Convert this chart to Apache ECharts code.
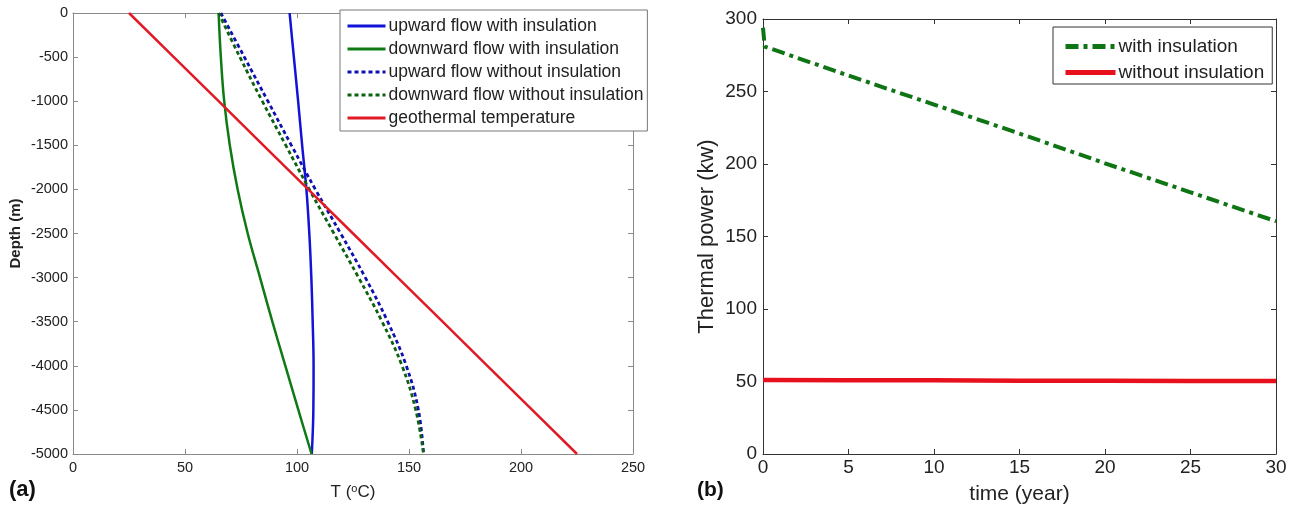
<!DOCTYPE html>
<html>
<head>
<meta charset="utf-8">
<script src="https://cdn.jsdelivr.net/npm/echarts@6/dist/echarts.min.js"></script>
<style>
  html, body { margin: 0; padding: 0; background: #fff; }
  #chart { width: 1301px; height: 511px; }
</style>
</head>
<body>
<div id="chart"></div>
<script>
// Panel (a): temperature profiles along the well (depth in m, T in °C)
const depthLevels   = [0, -500, -1000, -1500, -2000, -2500, -3000, -3500, -4000, -4500, -5000];
const upInsulated   = [96.7, 98.6, 100.5, 102.3, 104.2, 105.5, 106.4, 107.0, 107.4, 107.3, 106.6];
const downInsulated = [65, 66, 67.5, 70, 73.5, 78, 83.5, 89, 94.8, 100.6, 106.5];
const upBare        = [66, 76.5, 87, 97.5, 108.2, 119.5, 130.5, 140.5, 148.8, 154.2, 156.5];
const downBare      = [65, 74.5, 84.5, 95, 105.5, 116.5, 127.5, 138, 146.9, 153, 156.5];
const geothermal    = [25, 45, 65, 85, 105, 125, 145, 165, 185, 205, 225];

// Panel (b): thermal power over the operating life (kw vs year)
const years          = [0, 0.1, 5, 10, 15, 20, 25, 30];
const powerInsulated = [294, 281, 261, 241, 221, 200.5, 180.5, 160.5];
const powerBare      = [51, 51, 50.9, 50.8, 50.6, 50.5, 50.4, 50.4];

const FONT = '"Liberation Sans", Arial, Helvetica, sans-serif';

function profile(temps) {
  return temps.map((t, i) => [t, depthLevels[i]]);
}
function timeline(vals) {
  return vals.map((v, i) => [years[i], v]);
}
const plain = (v) => String(v);

function boxAxis(opts) {
  const color = opts.color;
  return Object.assign({
    type: 'value',
    splitLine: { show: false },
    axisLine: { show: true, onZero: false, lineStyle: { color: color, width: 1 } },
    axisTick: { show: true, inside: true, length: 5, lineStyle: { color: color } },
    axisLabel: { show: false }
  }, opts.extra);
}

const chart = echarts.init(document.getElementById('chart'), null, { renderer: 'canvas' });

const leftAxisColor = '#8a8a8a';
const rightAxisColor = '#333';

const option = {
  backgroundColor: '#fff',
  animation: false,
  textStyle: { fontFamily: FONT },
  grid: [
    { left: 73, top: 13, width: 560, height: 441 },
    { left: 763, top: 19, width: 513, height: 435 }
  ],
  xAxis: [
    boxAxis({ color: leftAxisColor, extra: {
      gridIndex: 0, position: 'bottom', min: 0, max: 250, interval: 50,
      axisLabel: { show: true, fontSize: 14.5, color: '#222', margin: 6, fontFamily: FONT, formatter: plain },
      name: 'T ({sup|o}C)', nameLocation: 'middle', nameGap: 29,
      nameTextStyle: { fontSize: 17, color: '#222', fontFamily: FONT,
        rich: { sup: { fontSize: 11, verticalAlign: 'top', padding: [0, 0, 8, 0], color: '#222' } } }
    }}),
    boxAxis({ color: leftAxisColor, extra: {
      gridIndex: 0, position: 'top', min: 0, max: 250, interval: 50
    }}),
    boxAxis({ color: rightAxisColor, extra: {
      gridIndex: 1, position: 'bottom', min: 0, max: 30, interval: 5,
      axisLabel: { show: true, fontSize: 19, color: '#222', margin: 4, fontFamily: FONT, formatter: plain },
      name: 'time (year)', nameLocation: 'middle', nameGap: 30,
      nameTextStyle: { fontSize: 21, color: '#222', fontFamily: FONT }
    }}),
    boxAxis({ color: rightAxisColor, extra: {
      gridIndex: 1, position: 'top', min: 0, max: 30, interval: 5
    }})
  ],
  yAxis: [
    boxAxis({ color: leftAxisColor, extra: {
      gridIndex: 0, position: 'left', min: -5000, max: 0, interval: 500,
      axisLabel: { show: true, fontSize: 14.5, color: '#222', margin: 5, fontFamily: FONT, formatter: plain },
      name: 'Depth (m)', nameLocation: 'middle', nameGap: 50, nameRotate: 90,
      nameTextStyle: { fontSize: 15, fontWeight: 'bold', color: '#222', fontFamily: FONT }
    }}),
    boxAxis({ color: leftAxisColor, extra: {
      gridIndex: 0, position: 'right', min: -5000, max: 0, interval: 500
    }}),
    boxAxis({ color: rightAxisColor, extra: {
      gridIndex: 1, position: 'left', min: 0, max: 300, interval: 50,
      axisLabel: { show: true, fontSize: 19, color: '#222', margin: 6, fontFamily: FONT, formatter: plain },
      name: 'Thermal power (kw)', nameLocation: 'middle', nameGap: 45, nameRotate: 90,
      nameTextStyle: { fontSize: 22, color: '#222', fontFamily: FONT }
    }}),
    boxAxis({ color: rightAxisColor, extra: {
      gridIndex: 1, position: 'right', min: 0, max: 300, interval: 50
    }})
  ],
  legend: [
    {
      data: ['upward flow with insulation', 'downward flow with insulation',
             'upward flow without insulation', 'downward flow without insulation',
             'geothermal temperature'],
      orient: 'vertical', left: 340, top: 10,
      itemWidth: 38, itemHeight: 14, itemGap: 5,
      padding: [7, 4, 4, 6],
      itemStyle: { opacity: 0 },
      lineStyle: { width: 3 },
      backgroundColor: '#fff', borderColor: '#777', borderWidth: 1, borderRadius: 0,
      selectedMode: false,
      textStyle: { fontSize: 17.5, color: '#222', fontFamily: FONT, padding: [0, 0, 0, -2] }
    },
    {
      data: ['with insulation', 'without insulation'],
      orient: 'vertical', left: 1053, top: 27,
      itemWidth: 50, itemHeight: 16, itemGap: 7,
      padding: [10, 8, 2, 10],
      itemStyle: { opacity: 0 },
      lineStyle: { width: 5 },
      backgroundColor: '#fff', borderColor: '#333', borderWidth: 1, borderRadius: 0,
      selectedMode: false,
      textStyle: { fontSize: 19, color: '#222', fontFamily: FONT, padding: [0, 0, 0, -2] }
    }
  ],
  series: [
    {
      name: 'upward flow with insulation', type: 'line', xAxisIndex: 0, yAxisIndex: 0,
      data: profile(upInsulated), symbol: 'none', smooth: 0.4,
      lineStyle: { color: '#1212d8', width: 2.5 }, itemStyle: { color: '#1212d8' }
    },
    {
      name: 'downward flow with insulation', type: 'line', xAxisIndex: 0, yAxisIndex: 0,
      data: profile(downInsulated), symbol: 'none', smooth: 0.4,
      lineStyle: { color: '#0f7a14', width: 2.5 }, itemStyle: { color: '#0f7a14' }
    },
    {
      name: 'upward flow without insulation', type: 'line', xAxisIndex: 0, yAxisIndex: 0,
      data: profile(upBare), symbol: 'none', smooth: 0.4,
      lineStyle: { color: '#1010b0', width: 2.8, type: [4, 3] }, itemStyle: { color: '#1010b0' }
    },
    {
      name: 'downward flow without insulation', type: 'line', xAxisIndex: 0, yAxisIndex: 0,
      data: profile(downBare), symbol: 'none', smooth: 0.4,
      lineStyle: { color: '#0c620e', width: 2.8, type: [4, 3] }, itemStyle: { color: '#0c620e' }
    },
    {
      name: 'geothermal temperature', type: 'line', xAxisIndex: 0, yAxisIndex: 0,
      data: profile(geothermal), symbol: 'none',
      lineStyle: { color: '#e01a26', width: 2.5 }, itemStyle: { color: '#e01a26' }
    },
    {
      name: 'with insulation', type: 'line', xAxisIndex: 2, yAxisIndex: 2,
      data: timeline(powerInsulated), symbol: 'none',
      lineStyle: { color: '#0f7414', width: 4, type: [13, 5, 4, 5] }, itemStyle: { color: '#0f7414' }
    },
    {
      name: 'without insulation', type: 'line', xAxisIndex: 2, yAxisIndex: 2,
      data: timeline(powerBare), symbol: 'none',
      lineStyle: { color: '#e8101c', width: 4.5 }, itemStyle: { color: '#e8101c' }
    }
  ],
  graphic: [
    { type: 'text', left: 9, top: 479,
      style: { text: '(a)', font: 'bold 22px ' + FONT, fill: '#111' } },
    { type: 'text', left: 697, top: 480,
      style: { text: '(b)', font: 'bold 21px ' + FONT, fill: '#111' } }
  ]
};

chart.setOption(option);
</script>
</body>
</html>
